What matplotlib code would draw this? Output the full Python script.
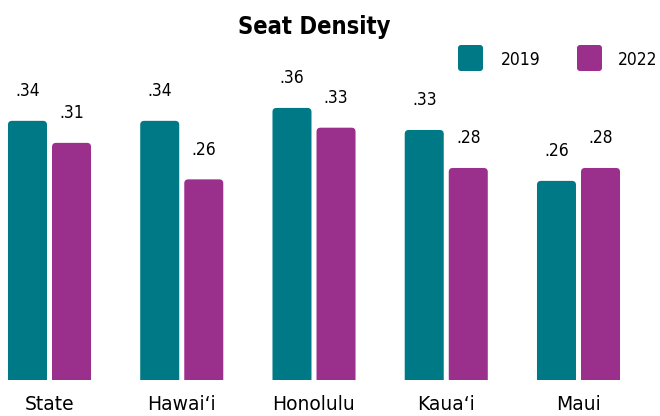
import matplotlib
matplotlib.use("Agg")
import matplotlib.pyplot as plt
from matplotlib.patches import FancyBboxPatch

categories = ["State", "Hawai\u2018i", "Honolulu", "Kaua\u2018i", "Maui"]
series_names = ["2019", "2022"]
values_2019 = [0.341, 0.341, 0.358, 0.329, 0.262]
values_2022 = [0.312, 0.264, 0.332, 0.279, 0.279]

colors = ["#007987", "#9B2F8C"]
plt.rcParams['font.family'] = ['DejaVu Sans']
plt.rcParams['font.stretch'] = 'condensed'

W, H = 660, 416
fig = plt.figure(figsize=(6.6, 4.16), dpi=100)
ax = fig.add_axes([0, 36 / H, 1, 344 / H])

x = list(range(len(categories)))
bw = 0.295
off = 0.333 / 2
px_per_x = 132.25
px_per_y = 760.0
ax.set_xlim(-49.5 / px_per_x, (660 - 49.5) / px_per_x)
ax.set_ylim(0, 344 / px_per_y)

r_px = 4
for vals, c, sgn in [(values_2019, colors[0], -1), (values_2022, colors[1], 1)]:
    bars = ax.bar([i + sgn * off for i in x], vals, width=bw, color=c, alpha=0)
    for b, v in zip(bars, vals):
        bx, by = b.get_x(), b.get_y()
        bwid, bh = b.get_width(), b.get_height()
        r = r_px / px_per_x
        ext = 10 / px_per_y
        p = FancyBboxPatch((bx, by - ext), bwid, bh + ext,
                           boxstyle=f"round,pad=0,rounding_size={r}",
                           mutation_aspect=px_per_x / px_per_y,
                           facecolor=c, edgecolor='none', clip_on=True)
        ax.add_patch(p)
        ax.annotate(f"{v:.2f}".lstrip("0"), (bx + bwid / 2, bh),
                    xytext=(0, 15), textcoords='offset points',
                    ha='center', va='bottom', fontsize=12.5, color='black')

ax.set_xticks(x)
ax.set_xticklabels(categories, fontsize=13.5, fontstretch='normal')
ax.tick_params(axis='x', length=0, pad=11)
ax.set_yticks([])
for s in ax.spines.values():
    s.set_visible(False)

fig.text(314 / W, 1 - 27 / H, "Seat Density", ha='center', va='center',
         fontsize=17, fontweight='bold')

# legend
for (lx, tx), name, c in zip([(458, 501), (577, 618)], series_names, colors):
    sw, sh = 25, 26
    p = FancyBboxPatch((lx / W, 1 - 71 / H), sw / W, sh / H,
                       boxstyle=f"round,pad=0,rounding_size={3 / W}",
                       mutation_aspect=W / H,
                       transform=fig.transFigure, facecolor=c, edgecolor='none')
    fig.patches.append(p)
    fig.text(tx / W, 1 - 60 / H, name, ha='left', va='center', fontsize=12.5)

fig.savefig("out.png", dpi=100)
